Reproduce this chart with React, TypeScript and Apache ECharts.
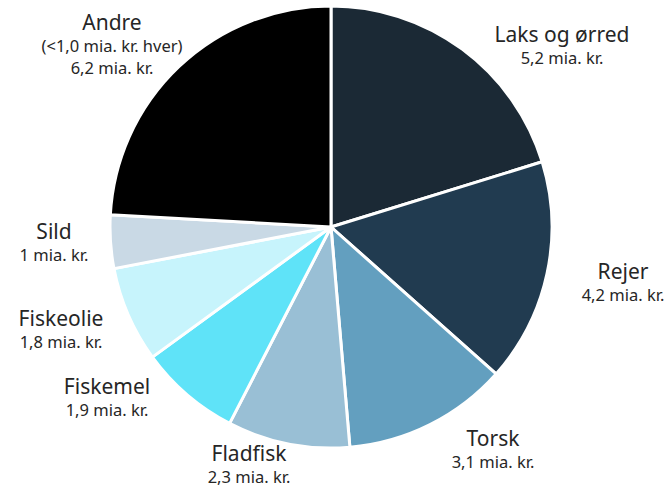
import React, { useEffect, useRef } from "react";
import * as echarts from "echarts";

const categories = ["Laks og ørred", "Rejer", "Torsk", "Fladfisk", "Fiskemel", "Fiskeolie", "Sild", "Andre"];
const values = [5.2, 4.2, 3.1, 2.3, 1.9, 1.8, 1.0, 6.2];
const valueLabels = ["5,2 mia. kr.", "4,2 mia. kr.", "3,1 mia. kr.", "2,3 mia. kr.", "1,9 mia. kr.", "1,8 mia. kr.", "1 mia. kr.", "6,2 mia. kr."];
const extraNotes = ["", "", "", "", "", "", "", "(<1,0 mia. kr. hver)"];
const colors = ["#1b2935", "#213b50", "#639fbf", "#99bfd5", "#5fe3f8", "#c7f4fc", "#c9d9e5", "#000000"];

// label anchor positions (layout only)
const labelPos = [
  [562, 21], [623, 258], [493, 425], [249, 440], [107, 373], [61, 305], [54, 218], [112, 9],
];

export default function App() {
  const ref = useRef<HTMLDivElement>(null);
  useEffect(() => {
    document.body.style.margin = "0";
    const chart = echarts.init(ref.current!, null, { renderer: "svg" });
    chart.setOption({
      animation: false,
      backgroundColor: "#ffffff",
      series: [
        {
          type: "pie",
          center: [331, 227],
          radius: [0, 221],
          startAngle: 90,
          clockwise: true,
          itemStyle: { borderColor: "#ffffff", borderWidth: 3 },
          labelLine: { show: false },
          label: {
            show: true,
            position: "outside",
            overflow: "none",
            color: "#262626",
            fontFamily: "Noto Sans",
            align: "center",
            formatter: (p: any) => {
              const i = p.dataIndex;
              const note = extraNotes[i] ? `{v|${extraNotes[i]}}\n` : "";
              return `{n|${categories[i]}}\n${note}{v|${valueLabels[i]}}`;
            },
            rich: {
              n: { fontSize: 21, lineHeight: 25, color: "#262626", fontFamily: "Noto Sans", align: "center" },
              v: { fontSize: 16.5, lineHeight: 22, color: "#262626", fontFamily: "Noto Sans", align: "center" },
            },
          },
          labelLayout: (params: any) => {
            const p = labelPos[params.dataIndex];
            return { x: p[0], y: p[1], align: "center", verticalAlign: "top" };
          },
          data: categories.map((c, i) => ({
            name: c,
            value: values[i],
            itemStyle: { color: colors[i] },
          })),
        },
      ],
    });
    return () => chart.dispose();
  }, []);
  return <div ref={ref} style={{ width: 671, height: 489 }} />;
}
